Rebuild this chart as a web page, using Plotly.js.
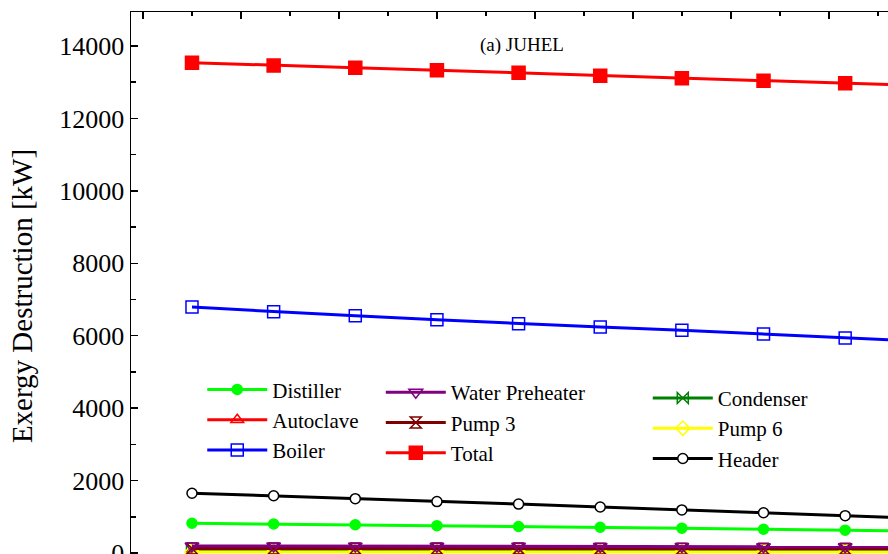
<!DOCTYPE html>
<html>
<head>
<meta charset="utf-8">
<script src="https://cdn.plot.ly/plotly-3.0.1.min.js"></script>
<style>
  html, body { margin: 0; padding: 0; overflow: hidden; background: #fff; }
  #chart { width: 1000px; height: 620px; }
</style>
</head>
<body>
<div id="chart"></div>
<script>
// x positions of the operating points (axis labels are cropped out of the reference)
const xValues = [3, 8, 13, 18, 23, 28, 33, 38, 43, 48];

// Exergy destruction [kW] per component
const distiller      = [820, 800, 780, 755, 730, 710, 685, 655, 630, 605];
const autoclave      = [75, 74, 73, 72, 71, 70, 69, 68, 67, 66];
const boiler         = [6790, 6660, 6550, 6440, 6330, 6240, 6150, 6050, 5940, 5840];
const waterPreheater = [195, 192, 189, 186, 183, 180, 177, 174, 171, 168];
const pump3          = [125, 124, 123, 122, 121, 120, 119, 118, 117, 116];
const total          = [13540, 13460, 13400, 13330, 13260, 13180, 13110, 13040, 12970, 12900];
const condenser      = [100, 99, 98, 97, 96, 95, 94, 93, 92, 91];
const pump6          = [30, 30, 29, 29, 28, 28, 27, 27, 26, 26];
const header         = [1650, 1580, 1500, 1420, 1350, 1270, 1190, 1110, 1030, 950];

const chartTitle = "(a) JUHEL";
const yTitle = "Exergy Destruction [kW]";

const serif = "Liberation Serif, Times New Roman, serif";

function tr(name, y, color, symbol, size, legend, rank, fill) {
  return {
    type: "scatter", mode: "lines+markers", name: name,
    x: xValues, y: y, legend: legend, legendrank: rank,
    line: { color: color, width: 3 },
    marker: { symbol: symbol, size: size, color: fill || color,
              line: { color: color, width: 1.5 } }
  };
}

const data = [
  tr("Distiller", distiller, "#00FF00", "circle", 10, "legend", 1),
  tr("Autoclave", autoclave, "#FF0000", "triangle-up-open", 11, "legend", 2),
  tr("Boiler", boiler, "#0000FF", "square-open", 12, "legend", 3),
  tr("Water Preheater", waterPreheater, "#800080", "triangle-down-open", 12, "legend2", 4),
  tr("Pump 3", pump3, "#800000", "hourglass-open", 11, "legend2", 5),
  tr("Total", total, "#FF0000", "square", 13, "legend2", 6),
  tr("Condenser", condenser, "#008000", "bowtie-open", 11, "legend3", 7),
  tr("Pump 6", pump6, "#FFFF00", "diamond-open", 11, "legend3", 8),
  tr("Header", header, "#000000", "circle", 10, "legend3", 9, "#FFFFFF")
];
// drawing order: water preheater on top of the low lines
const order = [0, 1, 2, 6, 7, 4, 3, 5, 8];
const plotData = order.map(i => data[i]);

const legendCommon = {
  font: { family: serif, size: 21, color: "#000" },
  bgcolor: "rgba(0,0,0,0)", borderwidth: 0,
  xanchor: "left", yanchor: "top", itemwidth: 60, traceorder: "normal"
};

const layout = {
  width: 1000, height: 620,
  margin: { l: 131, r: 50, t: 12, b: 40 },
  paper_bgcolor: "#fff", plot_bgcolor: "#fff",
  font: { family: serif, color: "#000" },
  showlegend: true,
  legend:  Object.assign({}, legendCommon, { x: 0.087, y: 0.371 }),
  legend2: Object.assign({}, legendCommon, { x: 0.305, y: 0.366 }),
  legend3: Object.assign({}, legendCommon, { x: 0.631, y: 0.356 }),
  xaxis: {
    range: [-0.735, 49.42], showgrid: false, zeroline: false,
    showline: true, linecolor: "#000", linewidth: 1.5, mirror: "allticks",
    ticks: "inside", ticklen: 7, tickwidth: 1.5, tickcolor: "#000",
    tick0: 0, dtick: 6, showticklabels: false,
    minor: { ticks: "inside", ticklen: 4, tickwidth: 1.5, tickcolor: "#000", dtick: 3, tick0: 0 }
  },
  yaxis: {
    range: [-746, 14939], showgrid: false, zeroline: false,
    showline: true, linecolor: "#000", linewidth: 1.5, mirror: "allticks",
    ticks: "inside", ticklen: 7, tickwidth: 1.5, tickcolor: "#000",
    tick0: 0, dtick: 2000, tickformat: "d",
    tickfont: { family: serif, size: 26, color: "#000" },
    minor: { ticks: "inside", ticklen: 5, tickwidth: 1.5, tickcolor: "#000", dtick: 1000, tick0: 0 },
    title: { text: yTitle, font: { family: serif, size: 29, color: "#000" }, standoff: 18 }
  },
  annotations: [{
    text: chartTitle, xref: "paper", yref: "paper", x: 0.477, y: 0.942,
    xanchor: "center", yanchor: "middle",
    showarrow: false, font: { family: serif, size: 19, color: "#000" }
  }]
};

Plotly.newPlot("chart", plotData, layout, { displayModeBar: false, staticPlot: true });
</script>
</body>
</html>
